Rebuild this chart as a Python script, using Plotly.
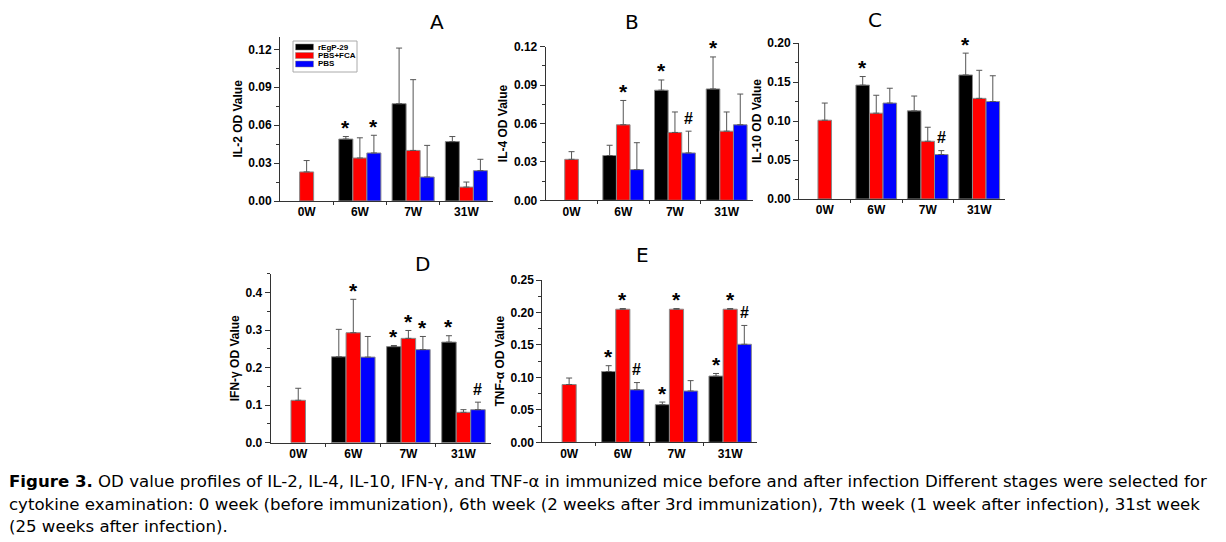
import plotly.graph_objects as go

W, H = 1226, 542
categories = ["0W", "6W", "7W", "31W"]
series_names = ["rEgP-29", "PBS+FCA", "PBS"]
series_colors = ["#000000", "#FF0000", "#0000FF"]

# Panel A  IL-2
A_black = [None, 0.049, 0.077, 0.047]
A_black_err = [None, 0.002, 0.044, 0.004]
A_red = [0.023, 0.034, 0.040, 0.011]
A_red_err = [0.009, 0.016, 0.056, 0.004]
A_blue = [None, 0.038, 0.019, 0.024]
A_blue_err = [None, 0.014, 0.025, 0.009]
A_marks = [(1, 0, "*"), (1, 2, "*")]

# Panel B  IL-4
B_black = [None, 0.035, 0.086, 0.087]
B_black_err = [None, 0.008, 0.008, 0.025]
B_red = [0.032, 0.059, 0.053, 0.054]
B_red_err = [0.006, 0.019, 0.016, 0.015]
B_blue = [None, 0.024, 0.037, 0.059]
B_blue_err = [None, 0.021, 0.017, 0.024]
B_marks = [(1, 1, "*"), (2, 0, "*"), (2, 2, "#"), (3, 0, "*")]

# Panel C  IL-10
C_black = [None, 0.146, 0.113, 0.159]
C_black_err = [None, 0.011, 0.019, 0.028]
C_red = [0.101, 0.110, 0.074, 0.129]
C_red_err = [0.022, 0.023, 0.018, 0.036]
C_blue = [None, 0.123, 0.057, 0.125]
C_blue_err = [None, 0.019, 0.005, 0.033]
C_marks = [(1, 0, "*"), (2, 2, "#"), (3, 0, "*")]

# Panel D  IFN-gamma
D_black = [None, 0.229, 0.256, 0.268]
D_black_err = [None, 0.073, 0.003, 0.017]
D_red = [0.113, 0.293, 0.278, 0.081]
D_red_err = [0.032, 0.089, 0.021, 0.007]
D_blue = [None, 0.228, 0.248, 0.088]
D_blue_err = [None, 0.055, 0.035, 0.020]
D_marks = [(1, 1, "*"), (2, 0, "*"), (2, 1, "*"), (2, 2, "*"), (3, 0, "*"), (3, 2, "#")]

# Panel E  TNF-alpha
E_black = [None, 0.109, 0.058, 0.102]
E_black_err = [None, 0.009, 0.004, 0.004]
E_red = [0.089, 0.205, 0.205, 0.205]
E_red_err = [0.010, 0.001, 0.001, 0.001]
E_blue = [None, 0.081, 0.079, 0.151]
E_blue_err = [None, 0.011, 0.016, 0.029]
E_marks = [(1, 0, "*"), (1, 1, "*"), (1, 2, "#"), (2, 0, "*"), (2, 1, "*"), (3, 0, "*"), (3, 1, "*"), (3, 2, "#")]

panels = [
    dict(letter="A", ytitle="IL-2 OD Value", vals=[A_black, A_red, A_blue], errs=[A_black_err, A_red_err, A_blue_err],
         marks=A_marks, yrange=[0, 0.13], dtick=0.03, fmt=".2f", px=(280, 493), py=(36.7, 201), letter_pos=(437, 22)),
    dict(letter="B", ytitle="IL-4 OD Value", vals=[B_black, B_red, B_blue], errs=[B_black_err, B_red_err, B_blue_err],
         marks=B_marks, yrange=[0, 0.12], dtick=0.03, fmt=".2f", px=(545.7, 752.5), py=(46.7, 200.3), letter_pos=(632, 22)),
    dict(letter="C", ytitle="IL-10 OD Value", vals=[C_black, C_red, C_blue], errs=[C_black_err, C_red_err, C_blue_err],
         marks=C_marks, yrange=[0, 0.20], dtick=0.05, fmt=".2f", px=(799, 1005), py=(43, 199), letter_pos=(875, 20)),
    dict(letter="D", ytitle="IFN-\u03b3 OD Value", vals=[D_black, D_red, D_blue], errs=[D_black_err, D_red_err, D_blue_err],
         marks=D_marks, yrange=[0, 0.45], dtick=0.1, fmt=".1f", px=(270.7, 491), py=(273.8, 442.7), letter_pos=(422, 264)),
    dict(letter="E", ytitle="TNF-\u03b1 OD Value", vals=[E_black, E_red, E_blue], errs=[E_black_err, E_red_err, E_blue_err],
         marks=E_marks, yrange=[0, 0.25], dtick=0.05, fmt=".2f", px=(542.3, 757), py=(280, 442.3), letter_pos=(642, 255)),
]

BARGAP = 0.21
bar_w = (1 - BARGAP) / 3
xpos = list(range(len(categories)))

SANS = "Liberation Sans, Arial, sans-serif"
fig = go.Figure()
annotations = []
shapes = []

for i, p in enumerate(panels):
    n = "" if i == 0 else str(i + 1)
    xa, ya = "x" + n, "y" + n
    for s in range(3):
        vals = p["vals"][s]
        errs = [e if e is not None else 0 for e in p["errs"][s]]
        fig.add_trace(go.Bar(
            x=xpos, y=vals, name=series_names[s], xaxis=xa, yaxis=ya,
            marker=dict(color=series_colors[s], line=dict(color="#8a8a8a", width=1)),
            error_y=dict(type="data", array=errs, arrayminus=[0] * len(errs), symmetric=False,
                         color="#555555", thickness=1, width=3),
            showlegend=False, offsetgroup=str(s),
        ))
    # significance marks
    for (ci, si, sym) in p["marks"]:
        v = p["vals"][si][ci] + p["errs"][si][ci]
        annotations.append(dict(
            x=ci + (si - 1) * bar_w, y=v, xref=xa, yref=ya, text="<b>%s</b>" % sym, showarrow=False,
            xanchor="center", yanchor="middle", yshift=(9 if sym == "*" else 13),
            font=dict(family=SANS, size=(21 if sym == "*" else 16), color="#000"),
        ))
    # panel letter
    annotations.append(dict(
        x=p["letter_pos"][0] / W, y=1 - p["letter_pos"][1] / H, xref="paper", yref="paper",
        text=p["letter"], showarrow=False, xanchor="center", yanchor="middle",
        font=dict(family="DejaVu Sans, Verdana, sans-serif", size=20, color="#000"),
    ))
    xd = [p["px"][0] / W, p["px"][1] / W]
    yd = [1 - p["py"][1] / H, 1 - p["py"][0] / H]
    fig.layout["xaxis" + n] = dict(
        domain=xd, range=[-0.5, 3.5], tickmode="array", tickvals=xpos, ticktext=categories,
        showline=True, linecolor="#333", linewidth=1, ticks="", showgrid=False, zeroline=False,
        tickfont=dict(family=SANS, size=12, color="#000", weight="bold"),
        anchor=ya, fixedrange=True, automargin=False,
        minor=dict(tickmode="array", tickvals=[0.5, 1.5, 2.5], ticks="outside", ticklen=3, tickcolor="#333"),
    )
    fig.layout["yaxis" + n] = dict(
        domain=yd, range=p["yrange"], dtick=p["dtick"], tick0=0, tickformat=p["fmt"],
        showline=True, linecolor="#333", linewidth=1, ticks="outside", ticklen=5, tickcolor="#333",
        showgrid=False, zeroline=False, anchor=xa, automargin=False,
        tickfont=dict(family=SANS, size=12, color="#000", weight="bold"),
        title=dict(text=p["ytitle"], standoff=3,
                   font=dict(family=SANS, size=12, color="#000", weight="bold")),
        minor=dict(dtick=p["dtick"] / 2, tick0=0, ticks="outside", ticklen=3, tickcolor="#333"),
    )

# legend box inside panel A (drawn as a key)
def px_x(v):
    return v / W


def px_y(v):
    return 1 - v / H


shapes.append(dict(type="rect", xref="paper", yref="paper", x0=px_x(293), x1=px_x(357), y0=px_y(72), y1=px_y(41),
                   line=dict(color="#aaaaaa", width=1), fillcolor="white", layer="above"))
legend_rows = [47, 55.5, 64]
for s in range(3):
    cy = legend_rows[s]
    shapes.append(dict(type="rect", xref="paper", yref="paper", x0=px_x(295.5), x1=px_x(313.5),
                       y0=px_y(cy + 3), y1=px_y(cy - 3), line=dict(color="#8a8a8a", width=0.5),
                       fillcolor=series_colors[s], layer="above"))
    annotations.append(dict(x=px_x(315.5), y=px_y(cy), xref="paper", yref="paper", text="<b>%s</b>" % series_names[s],
                            showarrow=False, xanchor="left", yanchor="middle",
                            font=dict(family=SANS, size=8, color="#000")))

# caption
cap_font = dict(family="DejaVu Sans, Verdana, sans-serif", size=16.6, color="#000")
caption_lines = [
    "<b>Figure 3.</b> OD value profiles of IL-2, IL-4, IL-10, IFN-\u03b3, and TNF-\u03b1 in immunized mice before and after infection Different stages were selected for",
    "cytokine examination: 0 week (before immunization), 6th week (2 weeks after 3rd immunization), 7th week (1 week after infection), 31st week",
    "(25 weeks after infection).",
]
caption_y = [482, 504, 526]
for t, yy in zip(caption_lines, caption_y):
    annotations.append(dict(x=7 / W, y=1 - yy / H, xref="paper", yref="paper", text=t, showarrow=False,
                            xanchor="left", yanchor="middle", font=cap_font))

fig.update_layout(
    width=W, height=H, template="none",
    margin=dict(l=0, r=0, t=0, b=0),
    paper_bgcolor="white", plot_bgcolor="white",
    barmode="group", bargap=BARGAP, bargroupgap=0,
    annotations=annotations, shapes=shapes, showlegend=False,
)

fig.write_html("out.html")
